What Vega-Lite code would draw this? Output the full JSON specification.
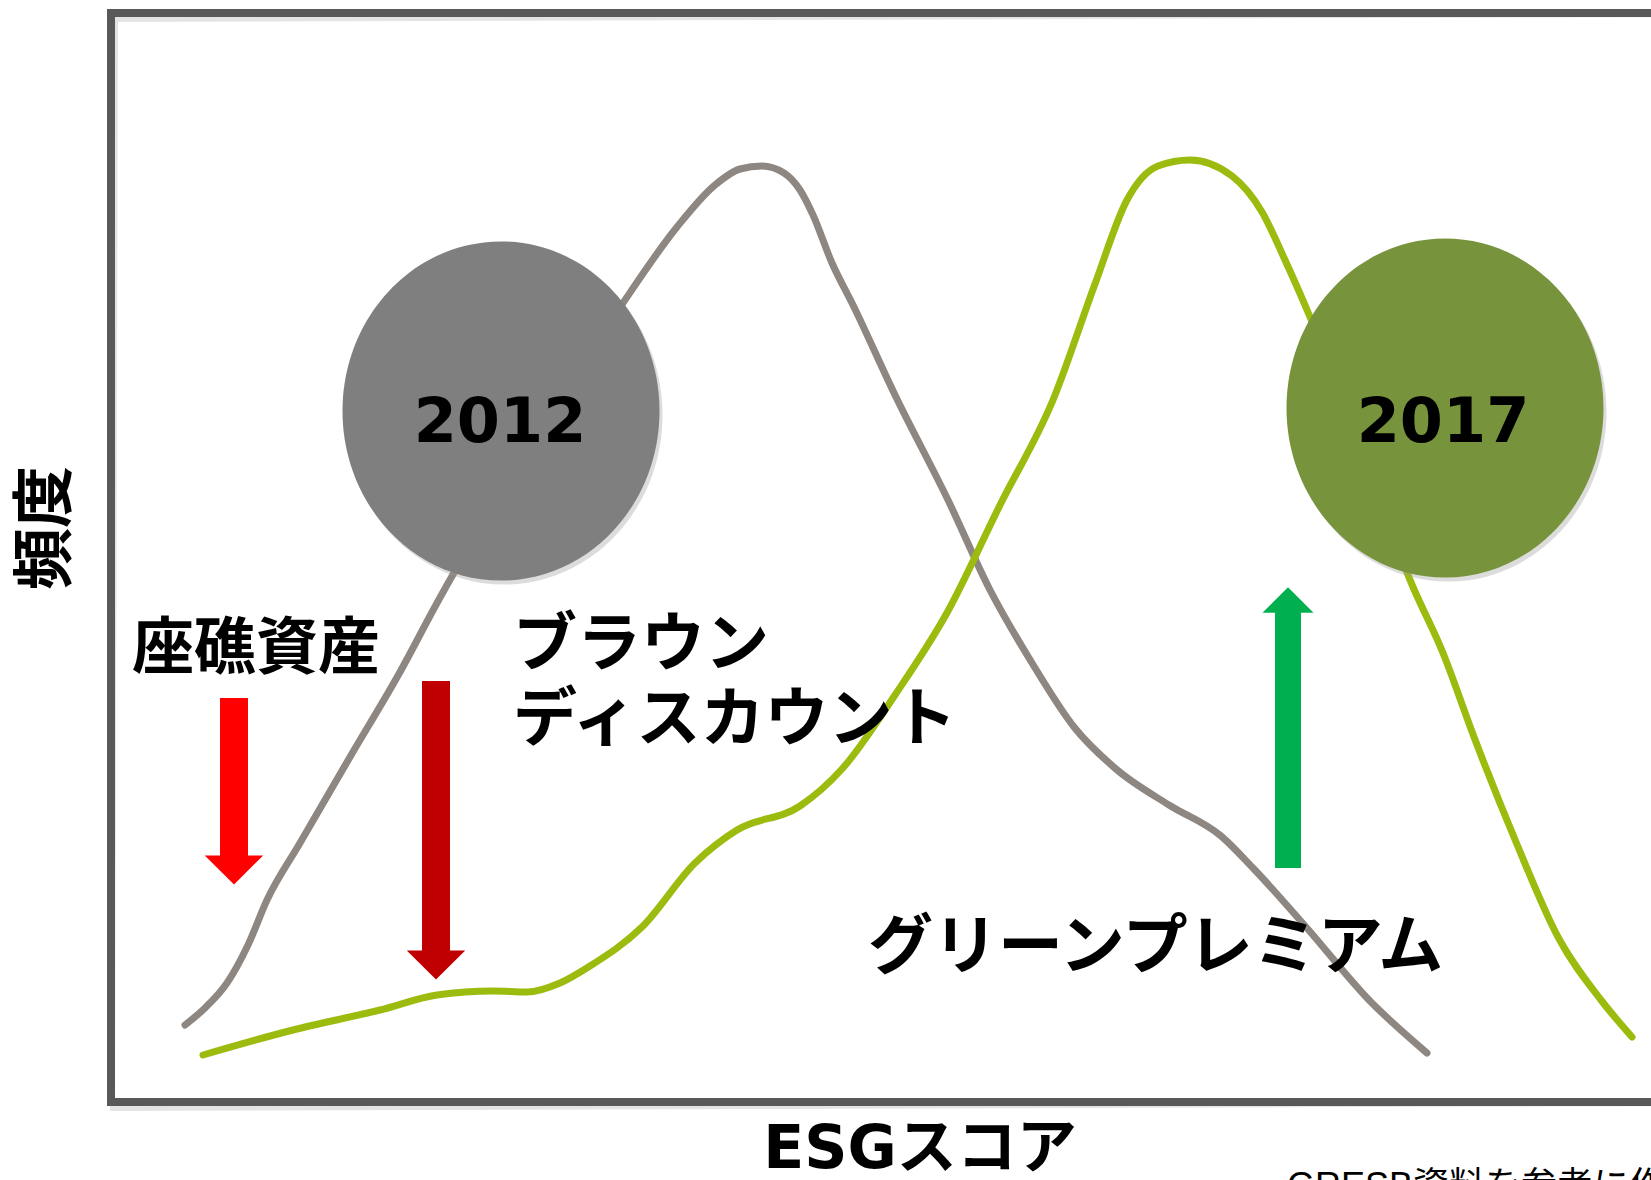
{
  "$schema": "https://vega.github.io/schema/vega-lite/v6.json",
  "autosize": {"type": "none"},
  "width": 1651,
  "height": 1180,
  "padding": 0,
  "background": "white",
  "config": {"view": {"stroke": null}},
  "resolve": {"scale": {"color": "independent"}},
  "datasets": {
    "frame": [
      {"part": "top", "x": 111, "y": 13, "x2": 1700, "y2": 13},
      {"part": "left", "x": 111, "y": 13, "x2": 111, "y2": 1102},
      {"part": "bottom", "x": 111, "y": 1102, "x2": 1700, "y2": 1102}
    ],
    "curves": [
      {"series": "2012", "x": 185, "y": 1025},
      {"series": "2012", "x": 205, "y": 1008},
      {"series": "2012", "x": 227, "y": 983},
      {"series": "2012", "x": 248, "y": 945},
      {"series": "2012", "x": 267, "y": 900},
      {"series": "2012", "x": 300, "y": 843},
      {"series": "2012", "x": 350, "y": 757},
      {"series": "2012", "x": 400, "y": 672},
      {"series": "2012", "x": 437, "y": 603},
      {"series": "2012", "x": 447, "y": 585},
      {"series": "2012", "x": 530, "y": 452},
      {"series": "2012", "x": 623, "y": 303},
      {"series": "2012", "x": 677, "y": 227},
      {"series": "2012", "x": 715, "y": 185},
      {"series": "2012", "x": 740, "y": 169},
      {"series": "2012", "x": 762, "y": 166},
      {"series": "2012", "x": 784, "y": 173},
      {"series": "2012", "x": 800, "y": 190},
      {"series": "2012", "x": 813, "y": 215},
      {"series": "2012", "x": 832, "y": 263},
      {"series": "2012", "x": 853, "y": 305},
      {"series": "2012", "x": 895, "y": 395},
      {"series": "2012", "x": 948, "y": 500},
      {"series": "2012", "x": 990, "y": 590},
      {"series": "2012", "x": 1032, "y": 663},
      {"series": "2012", "x": 1074, "y": 727},
      {"series": "2012", "x": 1116, "y": 769},
      {"series": "2012", "x": 1169, "y": 805},
      {"series": "2012", "x": 1221, "y": 836},
      {"series": "2012", "x": 1253, "y": 868},
      {"series": "2012", "x": 1306, "y": 927},
      {"series": "2012", "x": 1369, "y": 1000},
      {"series": "2012", "x": 1427, "y": 1053},
      {"series": "2017", "x": 203, "y": 1055},
      {"series": "2017", "x": 293, "y": 1030},
      {"series": "2017", "x": 380, "y": 1010},
      {"series": "2017", "x": 437, "y": 995},
      {"series": "2017", "x": 493, "y": 991},
      {"series": "2017", "x": 527, "y": 992},
      {"series": "2017", "x": 560, "y": 983},
      {"series": "2017", "x": 590, "y": 966},
      {"series": "2017", "x": 642, "y": 927},
      {"series": "2017", "x": 695, "y": 863},
      {"series": "2017", "x": 737, "y": 830},
      {"series": "2017", "x": 800, "y": 806},
      {"series": "2017", "x": 842, "y": 769},
      {"series": "2017", "x": 895, "y": 695},
      {"series": "2017", "x": 948, "y": 611},
      {"series": "2017", "x": 1000, "y": 505},
      {"series": "2017", "x": 1053, "y": 400},
      {"series": "2017", "x": 1095, "y": 284},
      {"series": "2017", "x": 1127, "y": 200},
      {"series": "2017", "x": 1158, "y": 166},
      {"series": "2017", "x": 1190, "y": 160},
      {"series": "2017", "x": 1232, "y": 176},
      {"series": "2017", "x": 1262, "y": 212},
      {"series": "2017", "x": 1285, "y": 260},
      {"series": "2017", "x": 1310, "y": 317},
      {"series": "2017", "x": 1360, "y": 450},
      {"series": "2017", "x": 1413, "y": 587},
      {"series": "2017", "x": 1443, "y": 653},
      {"series": "2017", "x": 1474, "y": 737},
      {"series": "2017", "x": 1516, "y": 842},
      {"series": "2017", "x": 1558, "y": 937},
      {"series": "2017", "x": 1601, "y": 1000},
      {"series": "2017", "x": 1632, "y": 1037}
    ],
    "circles": [
      {"year": "c2012", "x": 501, "y": 411},
      {"year": "c2017", "x": 1445, "y": 408}
    ],
    "shafts": [
      {"arrow": "stranded", "x": 220, "x2": 248, "y": 698, "y2": 858},
      {"arrow": "brown", "x": 422, "x2": 450, "y": 681, "y2": 952},
      {"arrow": "green", "x": 1275, "x2": 1301, "y": 611, "y2": 868}
    ],
    "downheads": [
      {"arrow": "stranded", "x": 234, "y": 870},
      {"arrow": "brown", "x": 436, "y": 965}
    ],
    "upheads": [
      {"arrow": "green", "x": 1288, "y": 600}
    ]
  },
  "encoding": {
    "x": {"type": "quantitative", "scale": {"domain": [0, 1651], "nice": false, "zero": false}, "axis": null},
    "y": {"type": "quantitative", "scale": {"domain": [0, 1180], "nice": false, "zero": false, "reverse": true}, "axis": null}
  },
  "layer": [
    {
      "data": {"name": "frame"},
      "mark": {"type": "rule", "stroke": "#e4e4e4", "strokeWidth": 8, "strokeCap": "square"},
      "encoding": {
        "x": {"field": "x", "type": "quantitative", "axis": null},
        "y": {"field": "y", "type": "quantitative", "axis": null},
        "x2": {"field": "x2"},
        "y2": {"field": "y2"},
        "xOffset": {"value": 3},
        "yOffset": {"value": 5}
      }
    },
    {
      "data": {"name": "frame"},
      "mark": {"type": "rule", "stroke": "#595959", "strokeWidth": 8, "strokeCap": "square"},
      "encoding": {
        "x": {"field": "x", "type": "quantitative", "axis": null},
        "y": {"field": "y", "type": "quantitative", "axis": null},
        "x2": {"field": "x2"},
        "y2": {"field": "y2"}
      }
    },
    {
      "data": {"name": "curves"},
      "mark": {"type": "line", "interpolate": "monotone", "strokeWidth": 7, "strokeCap": "round"},
      "encoding": {
        "x": {"field": "x", "type": "quantitative", "axis": null},
        "y": {"field": "y", "type": "quantitative", "axis": null},
        "color": {"field": "series", "type": "nominal", "scale": {"domain": ["2012", "2017"], "range": ["#8E8680", "#9BBB0F"]}, "legend": null}
      }
    },
    {
      "data": {"name": "circles"},
      "mark": {"type": "point", "filled": true, "opacity": 0.35, "color": "#9a9a9a", "size": 100489, "shape": "M-1,0A1,1.07,0,1,0,1,0A1,1.07,0,1,0,-1,0Z", "strokeWidth": 0},
      "encoding": {
        "x": {"field": "x", "type": "quantitative", "axis": null},
        "y": {"field": "y", "type": "quantitative", "axis": null},
        "xOffset": {"value": 3},
        "yOffset": {"value": 4}
      }
    },
    {
      "data": {"name": "circles"},
      "mark": {"type": "point", "filled": true, "opacity": 1, "size": 100489, "shape": "M-1,0A1,1.07,0,1,0,1,0A1,1.07,0,1,0,-1,0Z", "strokeWidth": 0},
      "encoding": {
        "x": {"field": "x", "type": "quantitative", "axis": null},
        "y": {"field": "y", "type": "quantitative", "axis": null},
        "color": {"field": "year", "type": "nominal", "scale": {"domain": ["c2012", "c2017"], "range": ["#7F7F7F", "#77933C"]}, "legend": null}
      }
    },
    {
      "data": {"values": [{"t": "2012", "x": 500, "y": 423}, {"t": "2017", "x": 1443, "y": 423}]},
      "mark": {"type": "text", "font": "DejaVu Sans", "fontWeight": "bold", "fontSize": 62, "align": "center", "baseline": "middle", "color": "#000000"},
      "encoding": {
        "x": {"field": "x", "type": "quantitative", "axis": null},
        "y": {"field": "y", "type": "quantitative", "axis": null},
        "text": {"field": "t"}
      }
    },
    {
      "data": {"name": "shafts"},
      "mark": {"type": "rect"},
      "encoding": {
        "x": {"field": "x", "type": "quantitative", "axis": null},
        "y": {"field": "y", "type": "quantitative", "axis": null},
        "x2": {"field": "x2"},
        "y2": {"field": "y2"},
        "color": {"field": "arrow", "type": "nominal", "scale": {"domain": ["stranded", "brown", "green"], "range": ["#FF0000", "#C00000", "#00B050"]}, "legend": null}
      }
    },
    {
      "data": {"name": "downheads"},
      "mark": {"type": "point", "filled": true, "opacity": 1, "size": 3420, "shape": "M-1,-0.5L1,-0.5L0,0.5Z", "strokeWidth": 0},
      "encoding": {
        "x": {"field": "x", "type": "quantitative", "axis": null},
        "y": {"field": "y", "type": "quantitative", "axis": null},
        "color": {"field": "arrow", "type": "nominal", "scale": {"domain": ["stranded", "brown"], "range": ["#FF0000", "#C00000"]}, "legend": null}
      }
    },
    {
      "data": {"name": "upheads"},
      "mark": {"type": "point", "filled": true, "opacity": 1, "size": 2601, "shape": "M-1,0.5L1,0.5L0,-0.5Z", "strokeWidth": 0, "color": "#00B050"},
      "encoding": {
        "x": {"field": "x", "type": "quantitative", "axis": null},
        "y": {"field": "y", "type": "quantitative", "axis": null}
      }
    },
    {
      "data": {"values": [
        {"t": "座礁資産", "x": 132, "y": 650}
      ]},
      "mark": {"type": "text", "font": "Noto Sans CJK JP", "fontWeight": "bold", "fontSize": 62, "align": "left", "baseline": "middle", "color": "#000000"},
      "encoding": {
        "x": {"field": "x", "type": "quantitative", "axis": null},
        "y": {"field": "y", "type": "quantitative", "axis": null},
        "text": {"field": "t"}
      }
    },
    {
      "data": {"values": [
        {"t": "ブラウン\nディスカウント", "x": 513, "y": 646}
      ]},
      "mark": {"type": "text", "font": "Noto Sans CJK JP", "fontWeight": "bold", "fontSize": 64, "lineBreak": "\n", "lineHeight": 75, "align": "left", "baseline": "middle", "color": "#000000"},
      "encoding": {
        "x": {"field": "x", "type": "quantitative", "axis": null},
        "y": {"field": "y", "type": "quantitative", "axis": null},
        "text": {"field": "t"}
      }
    },
    {
      "data": {"values": [
        {"t": "グリーンプレミアム", "x": 868, "y": 948}
      ]},
      "mark": {"type": "text", "font": "Noto Sans CJK JP", "fontWeight": "bold", "fontSize": 65, "align": "left", "baseline": "middle", "color": "#000000"},
      "encoding": {
        "x": {"field": "x", "type": "quantitative", "axis": null},
        "y": {"field": "y", "type": "quantitative", "axis": null},
        "text": {"field": "t"}
      }
    },
    {
      "data": {"values": [{"t": "ESGスコア", "x": 920, "y": 1150}]},
      "mark": {"type": "text", "font": "DejaVu Sans, Noto Sans CJK JP", "fontWeight": "bold", "fontSize": 60, "align": "center", "baseline": "middle", "color": "#000000"},
      "encoding": {
        "x": {"field": "x", "type": "quantitative", "axis": null},
        "y": {"field": "y", "type": "quantitative", "axis": null},
        "text": {"field": "t"}
      }
    },
    {
      "data": {"values": [{"t": "頻度", "x": 47, "y": 528}]},
      "mark": {"type": "text", "font": "Noto Sans CJK JP", "fontWeight": "bold", "fontSize": 62, "angle": 270, "align": "center", "baseline": "middle", "color": "#000000"},
      "encoding": {
        "x": {"field": "x", "type": "quantitative", "axis": null},
        "y": {"field": "y", "type": "quantitative", "axis": null},
        "text": {"field": "t"}
      }
    },
    {
      "data": {"values": [{"t": "GRESB資料を参考に作成", "x": 1287, "y": 1198}]},
      "mark": {"type": "text", "font": "Liberation Sans, Noto Sans CJK JP", "fontSize": 36, "align": "left", "baseline": "alphabetic", "color": "#000000"},
      "encoding": {
        "x": {"field": "x", "type": "quantitative", "axis": null},
        "y": {"field": "y", "type": "quantitative", "axis": null},
        "text": {"field": "t"}
      }
    }
  ]
}
